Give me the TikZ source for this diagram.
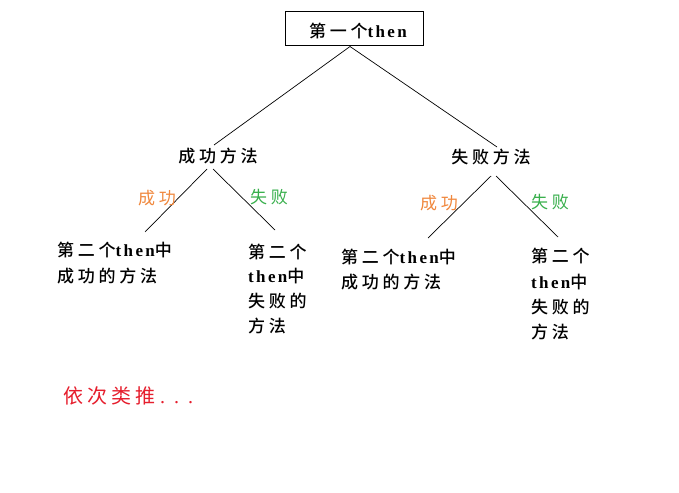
\documentclass[tikz,border=0pt]{standalone}
\usepackage{fontspec}
\newfontfamily\cjk[LetterSpace=22]{Noto Sans CJK SC Medium}
\newfontfamily\cjkreg[LetterSpace=22]{Noto Sans CJK SC}
\newfontfamily\cjkred[LetterSpace=20]{Noto Sans CJK SC}
\newfontfamily\latb[LetterSpace=14]{Liberation Serif}
\newcommand{\lt}[1]{{\latb\bfseries\fontsize{17}{20}\selectfont #1}}
\definecolor{okorange}{RGB}{240,135,60}
\definecolor{okgreen}{RGB}{55,175,75}
\definecolor{okred}{RGB}{230,30,45}
\begin{document}
\begin{tikzpicture}[x=1pt,y=-1pt,
  txt/.style={inner sep=0pt,font=\cjk\fontsize{17}{20}\selectfont},
  line/.style={inner sep=0pt,anchor=base west,font=\cjk\fontsize{17}{20}\selectfont},
  conn/.style={draw=black,line width=0.7pt},
  lbl/.style={inner sep=0pt,font=\cjkreg\fontsize{17}{20}\selectfont}]
\useasboundingbox[fill=white] (0,0) rectangle (679,492);

% top box
\node[draw,line width=1pt,minimum width=138pt,minimum height=34pt,inner sep=0pt] (topbox) at (354,29) {};
\node[txt] (toptext) at (358,31) {第一个\lt{then}};

% middle nodes
\node[txt] (m1) at (218,156) {成功方法};
\node[txt] (m2) at (491,157) {失败方法};

% connector end points
\coordinate (m1top) at (214,145);
\coordinate (m2top) at (497,147);
\coordinate (m1a) at (207,169);
\coordinate (m1b) at (213,169);
\coordinate (m2a) at (491,176);
\coordinate (m2b) at (496,176);
\coordinate (l1) at (145,232);
\coordinate (l2) at (275,230);
\coordinate (l3) at (428,238);
\coordinate (l4) at (558,237);

\draw[conn] ([xshift=-4pt]topbox.south) -- (m1top);
\draw[conn] ([xshift=-4pt]topbox.south) -- (m2top);
\draw[conn] (m1a) -- (l1);
\draw[conn] (m1b) -- (l2);
\draw[conn] (m2a) -- (l3);
\draw[conn] (m2b) -- (l4);

% branch labels
\node[lbl,text=okorange] (s1) at (157,198) {成功};
\node[lbl,text=okgreen] (f1) at (269,197) {失败};
\node[lbl,text=okorange] (s2) at (439,203) {成功};
\node[lbl,text=okgreen] (f2) at (550,202) {失败};

% leaves
\node[line] (a1) at (57,256) {第二个\lt{then}中};
\node[line] (a2) at (57,282) {成功的方法};

\node[line] (b1) at (248,258) {第二个};
\node[line] (b2) at (248,282) {\lt{then}中};
\node[line] (b3) at (248,307) {失败的};
\node[line] (b4) at (248,332) {方法};

\node[line] (c1) at (341,263) {第二个\lt{then}中};
\node[line] (c2) at (341,288) {成功的方法};

\node[line] (d1) at (531,262) {第二个};
\node[line] (d2) at (531,288) {\lt{then}中};
\node[line] (d3) at (531,313) {失败的};
\node[line] (d4) at (531,338) {方法};

% footer
\node[inner sep=0pt,anchor=base west,text=okred,font=\cjkred\fontsize{20}{24}\selectfont] (etc) at (63,403) {依次类推\hspace{5pt}{\latb\fontsize{20}{24}\selectfont\addfontfeature{LetterSpace=45}...}};
\end{tikzpicture}
\end{document}
